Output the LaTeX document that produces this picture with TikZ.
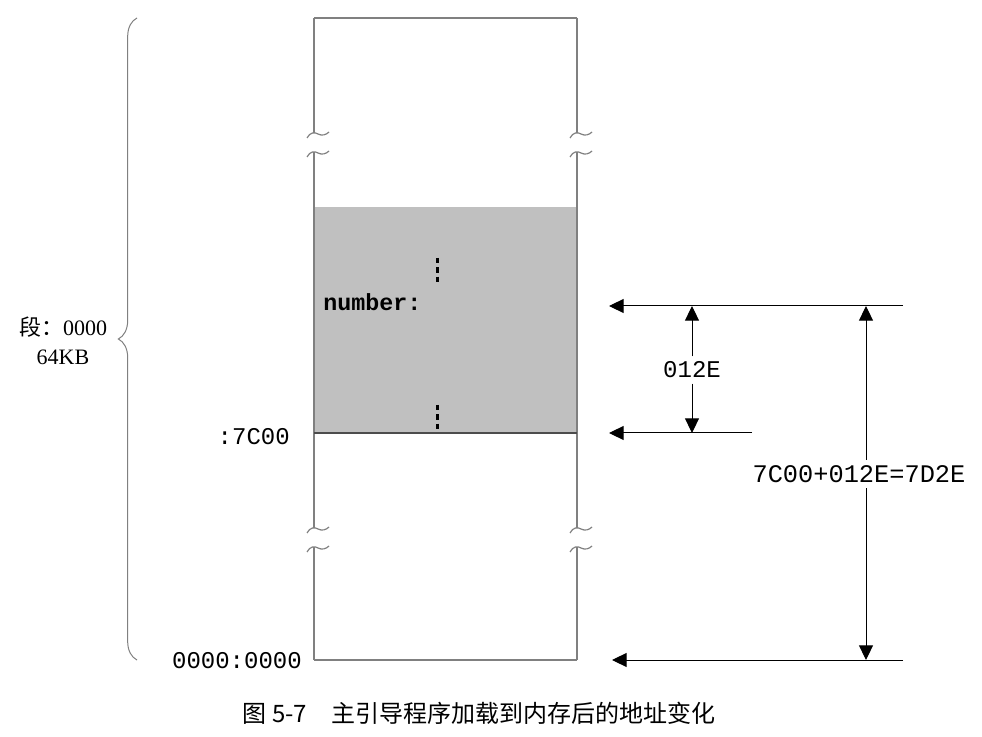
\documentclass[tikz,border=0pt]{standalone}
\usepackage{fontspec}
\setmainfont{Liberation Serif}
\setmonofont{Liberation Mono}
\newfontfamily\cjk{Noto Sans CJK SC}
\usetikzlibrary{arrows.meta, decorations.pathreplacing}
\definecolor{memline}{RGB}{128,128,128}
\definecolor{memfill}{RGB}{192,192,192}

\tikzset{
  boxline/.style={draw=memline, line width=0.9pt},
  dimline/.style={draw=black, line width=0.75pt},
  dimarrow/.style={dimline, -{Triangle[length=11pt,width=10.5pt]}},
  addr/.style={font=\ttfamily\fontsize{18}{20}\selectfont, inner sep=0pt},
  brk/.pic={\draw[boxline] (-7,5) .. controls (-4,-1) and (1,-1) .. (4,1) .. controls (8,3) and (12,2) .. (15,-1);}
}

\begin{document}
\begin{tikzpicture}[x=0.75pt, y=-0.75pt]
\useasboundingbox (0,0) rectangle (982,737);

% loaded boot code
\fill[memfill] (314,207) rectangle (577,433);
\foreach \y in {258,405}
  \draw[line width=2.25pt, dash pattern=on 4pt off 3pt] (437,\y) -- ++(0,24);

% memory column with breaks
\foreach \x in {314,577} {
  \draw[boxline] (\x,18) -- (\x,133);
  \draw[boxline] (\x,152) -- (\x,528);
  \draw[boxline] (\x,547) -- (\x,660);
  \foreach \y in {133,152,528,547}
    \pic at (\x,\y) {brk};
}
\draw[boxline] (314,18) -- (577,18);
\draw[boxline, draw=black!70] (314,433) -- (577,433);
\draw[boxline] (314,660) -- (577,660);

% labels on the left
\node[font=\ttfamily\bfseries\fontsize{17.5}{20}\selectfont, anchor=west, inner sep=0pt] (number) at (323,302) {number:};
\node[addr, anchor=east] (start) at (290,437) {:7C00};
\node[addr, anchor=east] (base) at (302,661) {0000:0000};
\draw[boxline, line width=0.75pt, decorate, decoration={brace, amplitude=14pt}] (137,660) -- (137,18);
\node[align=center, font=\fontsize{16.5}{21.75}\selectfont] (seg) at (63,341) {{\cjk 段：}0000\\64KB};

% address arrows
\coordinate (numR) at (903,306);
\coordinate (numL) at (609,306);
\coordinate (startR) at (752,433);
\coordinate (startL) at (609,433);
\coordinate (baseR) at (903,660);
\coordinate (baseL) at (612,660);
\draw[dimarrow] (numR) -- (numL);
\draw[dimarrow] (startR) -- (startL);
\draw[dimarrow] (baseR) -- (baseL);

% offset
\node[addr, fill=white, inner sep=4pt] (offset) at (692,370) {012E};
\draw[dimarrow] (offset.north) -- (offset.north |- numR);
\draw[dimarrow] (offset.south) -- (offset.south |- startR);

% physical address
\coordinate (phys) at (866,474);
\node[addr, font=\ttfamily\fontsize{19}{21}\selectfont, fill=white, inner sep=4pt] (sum) at (859,474) {7C00+012E=7D2E};
\draw[dimarrow] (phys |- sum.north) -- (phys |- numR);
\draw[dimarrow] (phys |- sum.south) -- (phys |- baseR);

% caption
\node[font=\cjk\fontsize{18}{20}\selectfont] (caption) at (479,713) {图 5-7\quad 主引导程序加载到内存后的地址变化};
\end{tikzpicture}
\end{document}
